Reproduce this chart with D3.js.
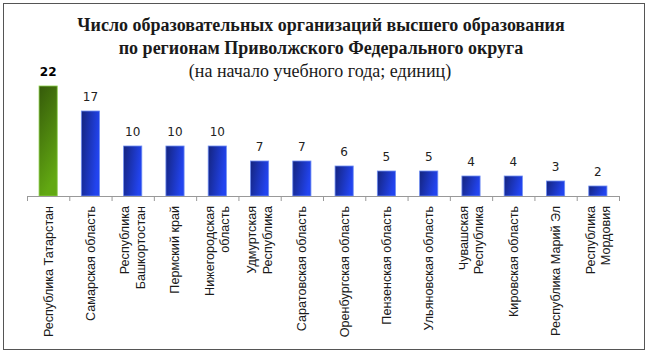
<!DOCTYPE html>
<html>
<head>
<meta charset="utf-8">
<script src="https://cdn.jsdelivr.net/npm/d3@7"></script>
<style>
  body { margin: 0; background: #fff; }
  svg { display: block; }
</style>
</head>
<body>
<svg id="chart" width="650" height="354"></svg>
<script>
const titleLines = [
    "Число образовательных организаций высшего образования",
    "по регионам Приволжского Федерального округа"
];
const subtitle = "(на начало учебного года; единиц)";

const regions = [
    "Республика Татарстан",
    "Самарская область",
    "Республика\nБашкортостан",
    "Пермский край",
    "Нижегородская\nобласть",
    "Удмуртская\nРеспублика",
    "Саратовская область",
    "Оренбургская область",
    "Пензенская область",
    "Ульяновская область",
    "Чувашская\nРеспублика",
    "Кировская область",
    "Республика Марий Эл",
    "Республика\nМордовия"
];
const values = [22, 17, 10, 10, 10, 7, 7, 6, 5, 5, 4, 4, 3, 2];

const data = regions.map((r, i) => ({ region: r, value: values[i], index: i }));

const svg = d3.select("#chart");

// outer frame
svg.append("rect")
    .attr("x", 3.5).attr("y", 3.5)
    .attr("width", 641).attr("height", 346)
    .attr("fill", "none")
    .attr("stroke", "#555")
    .attr("stroke-width", 1);

const defs = svg.append("defs");

const blue = defs.append("linearGradient")
    .attr("id", "gBlue")
    .attr("x1", "0").attr("y1", "0").attr("x2", "1").attr("y2", "0.3");
blue.append("stop").attr("offset", "0%").attr("stop-color", "#14247e");
blue.append("stop").attr("offset", "100%").attr("stop-color", "#2244f0");

const green = defs.append("linearGradient")
    .attr("id", "gGreen")
    .attr("x1", "0").attr("y1", "0").attr("x2", "0.3").attr("y2", "1");
green.append("stop").attr("offset", "0%").attr("stop-color", "#355a0a");
green.append("stop").attr("offset", "100%").attr("stop-color", "#62a812");

// title
const title = svg.append("g").attr("font-family", "'Liberation Serif', 'Times New Roman', serif");
title.selectAll(".tline")
    .data(titleLines)
    .enter()
    .append("text")
    .attr("class", "tline")
    .attr("x", 321)
    .attr("y", (d, i) => 31 + i * 23)
    .attr("text-anchor", "middle")
    .attr("font-size", 18)
    .attr("font-weight", "bold")
    .attr("fill", "#1a1a1a")
    .text(d => d);

title.append("text")
    .attr("x", 320)
    .attr("y", 77)
    .attr("text-anchor", "middle")
    .attr("font-size", 18)
    .attr("fill", "#1a1a1a")
    .text(subtitle);

// scales
const x = d3.scaleBand()
    .domain(data.map(d => d.index))
    .range([27, 619])
    .padding(0);

const xTicks = d3.scaleLinear()
    .domain([0, regions.length])
    .range([27, 619]);

const y = d3.scaleLinear()
    .domain([0, 22])
    .range([196, 86]);

const barW = x.bandwidth() * 0.43;

// bars
svg.selectAll(".bar")
    .data(data)
    .enter()
    .append("rect")
    .attr("class", "bar")
    .attr("x", d => x(d.index) + (x.bandwidth() - barW) / 2)
    .attr("y", d => y(d.value))
    .attr("width", barW)
    .attr("height", d => y(0) - y(d.value))
    .attr("fill", d => d.index === 0 ? "url(#gGreen)" : "url(#gBlue)")
    .attr("stroke", d => d.index === 0 ? "#8ccf4a" : "#6f8ef2")
    .attr("stroke-width", 0.8);

// axis with boundary ticks
const axis = svg.append("g")
    .attr("transform", `translate(0,${y(0)})`)
    .call(d3.axisBottom(xTicks)
        .tickValues(d3.range(regions.length + 1))
        .tickFormat("")
        .tickSize(5)
        .tickSizeOuter(0));
axis.select(".domain").attr("stroke", "#999");
axis.selectAll(".tick line").attr("stroke", "#999");

// value labels
svg.selectAll(".val")
    .data(data)
    .enter()
    .append("text")
    .attr("class", "val")
    .attr("x", d => x(d.index) + x.bandwidth() / 2)
    .attr("y", d => y(d.value) - 10)
    .attr("text-anchor", "middle")
    .attr("font-family", "'DejaVu Sans', Verdana, sans-serif")
    .attr("font-size", 12)
    .attr("font-weight", d => d.index === 0 ? "bold" : "normal")
    .attr("fill", d => d.index === 0 ? "#000" : "#222")
    .text(d => d.value);

// category labels, rotated
const cat = svg.selectAll(".cat")
    .data(data)
    .enter()
    .append("text")
    .attr("class", "cat")
    .attr("transform", d => `translate(${x(d.index) + x.bandwidth() / 2},206) rotate(-90)`)
    .attr("text-anchor", "end")
    .attr("font-family", "'Liberation Sans', Arial, sans-serif")
    .attr("font-size", 12.6)
    .attr("fill", "#1a1a1a");

cat.each(function(d) {
    const lines = d.region.split("\n");
    const t = d3.select(this);
    lines.forEach((line, i) => {
        t.append("tspan")
            .attr("x", 0)
            .attr("y", (i - (lines.length - 1) / 2) * 15.5)
            .attr("dy", "0.35em")
            .text(line);
    });
});
</script>
</body>
</html>
